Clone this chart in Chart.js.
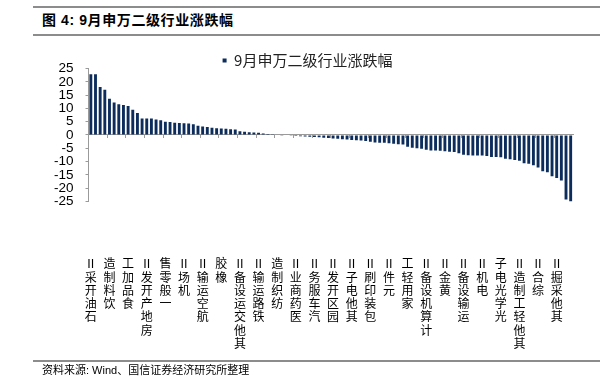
<!DOCTYPE html>
<html><head><meta charset="utf-8">
<script src="https://cdn.jsdelivr.net/npm/chart.js@4/dist/chart.umd.min.js"></script>
<style>
html,body{margin:0;padding:0;background:#fff;}
#wrap{position:relative;width:600px;height:384px;overflow:hidden;background:#fff;}
.rule{position:absolute;left:33px;right:0;height:2px;background:#8c8c8c;}
#title{position:absolute;left:42px;top:12px;line-height:17px;font-weight:bold;font-size:14px;font-family:"Liberation Sans","Noto Sans CJK SC";letter-spacing:0.6px;color:#000;white-space:nowrap;}
#src{position:absolute;left:42px;top:363px;line-height:14px;font-size:11px;font-family:"Liberation Sans","Noto Sans CJK SC";color:#000;white-space:nowrap;}
canvas{position:absolute;left:0;top:0;}
</style></head>
<body><div id="wrap">
<div class="rule" style="top:6px"></div>
<div id="title">图 4: 9月申万二级行业涨跌幅</div>
<div class="rule" style="top:34px"></div>
<canvas id="c" width="600" height="384"></canvas>
<div class="rule" style="top:360px;height:1.5px"></div>
<div id="src">资料来源: Wind、国信证券经济研究所整理</div>
</div>
<script>
// Labels shown under the axis (one every 4 categories)
const shownLabels = ['石油开采Ⅱ','饮料制造','食品加工','房地产开发Ⅱ','一般零售','机场Ⅱ','航空运输Ⅱ','橡胶',
  '其他交运设备Ⅱ','铁路运输Ⅱ','纺织制造','医药商业Ⅱ','汽车服务Ⅱ','园区开发Ⅱ','其他电子Ⅱ','包装印刷Ⅱ',
  '元件Ⅱ','家用轻工','计算机设备Ⅱ','黄金Ⅱ','运输设备Ⅱ','电机Ⅱ','光学光电子','其他轻工制造Ⅱ','综合Ⅱ','其他采掘Ⅱ'];
const seriesName = '9月申万二级行业涨跌幅';
// September change (%) of the 104 industries, sorted
const values = [22.8,22.8,18.0,17.0,13.6,12.2,11.6,11.3,10.9,9.5,
  8.3,6.2,6.2,6.2,5.8,5.5,5.0,4.9,4.6,4.5,
  4.4,4.3,4.0,3.5,3.2,3.0,2.7,2.5,2.4,2.3,
  2.2,2.1,1.4,1.2,1.0,0.9,0.8,0.6,0.4,0.3,
  0.2,-0.1,-0.2,-0.3,-0.4,-0.5,-0.6,-0.7,-0.8,-0.9,
  -1.0,-1.1,-1.3,-1.4,-1.6,-1.7,-1.9,-2.0,-2.1,-2.3,
  -2.5,-2.8,-2.9,-2.9,-3.1,-3.3,-3.5,-3.6,-4.4,-4.8,
  -5.0,-5.2,-5.6,-5.8,-5.8,-5.9,-6.1,-6.3,-6.4,-6.9,
  -7.4,-7.6,-7.7,-7.7,-7.7,-7.9,-8.3,-8.3,-8.4,-8.9,
  -9.1,-9.4,-9.7,-10.6,-10.8,-11.4,-12.2,-13.6,-14.0,-15.5,
  -16.2,-17.1,-24.3,-25.0];
const yMin = -25, yMax = 25, yStep = 5;
const labelEvery = 4;

const categories = values.map((v, i) => (i % labelEvery === 0 ? shownLabels[i / labelEvery] : ''));
const stacked = s => s ? Array.from(s).reverse() : '';

new Chart(document.getElementById('c'), {
  type: 'bar',
  data: {
    labels: categories,
    datasets: [{
      label: seriesName,
      data: values,
      backgroundColor: '#0c2c5c',
      borderWidth: 0,
      barPercentage: 0.62,
      categoryPercentage: 1.0,
      xAxisID: 'x'
    }]
  },
  options: {
    responsive: false,
    animation: false,
    devicePixelRatio: 1,
    layout: { padding: { top: 47, left: 42, right: 27, bottom: 30.8 } },
    plugins: {
      tooltip: { enabled: false },
      legend: {
        position: 'top',
        maxHeight: 21.5,
        labels: {
          boxWidth: 4, boxHeight: 4, padding: 6,
          color: '#222',
          font: { size: 15, family: '"Noto Sans CJK SC"' }
        }
      }
    },
    scales: {
      x: {
        type: 'category',
        position: 'bottom',
        offset: true,
        grid: { display: true, drawOnChartArea: false, drawTicks: true, tickLength: 52.5, color: 'rgba(0,0,0,0)' },
        border: { display: false },
        ticks: {
          autoSkip: false, maxRotation: 0, minRotation: 0,
          padding: 3,
          color: '#000',
          font: { size: 12, family: '"Noto Sans CJK SC"', lineHeight: 1.11 },
          callback: (v, i) => stacked(categories[i])
        }
      },
      x2: {
        type: 'category',
        labels: categories,
        position: { y: 0 },
        offset: true,
        grid: {
          drawOnChartArea: false, drawTicks: true, tickLength: 3,
          offset: true,
          color: c => (c.index % labelEvery === 0 ? '#9a9a9a' : 'rgba(0,0,0,0)')
        },
        border: { display: true, color: '#9a9a9a', width: 1 },
        ticks: { display: false, autoSkip: false }
      },
      y: {
        min: yMin, max: yMax,
        grid: { drawOnChartArea: false, drawTicks: true, tickLength: 3, color: '#9a9a9a' },
        border: { display: true, color: '#9a9a9a', width: 1 },
        ticks: {
          stepSize: yStep, padding: 12, color: '#000', autoSkip: false,
          font: { size: 13.5, family: '"Liberation Sans", Arial' }
        }
      }
    }
  }
});
</script>
</body></html>
